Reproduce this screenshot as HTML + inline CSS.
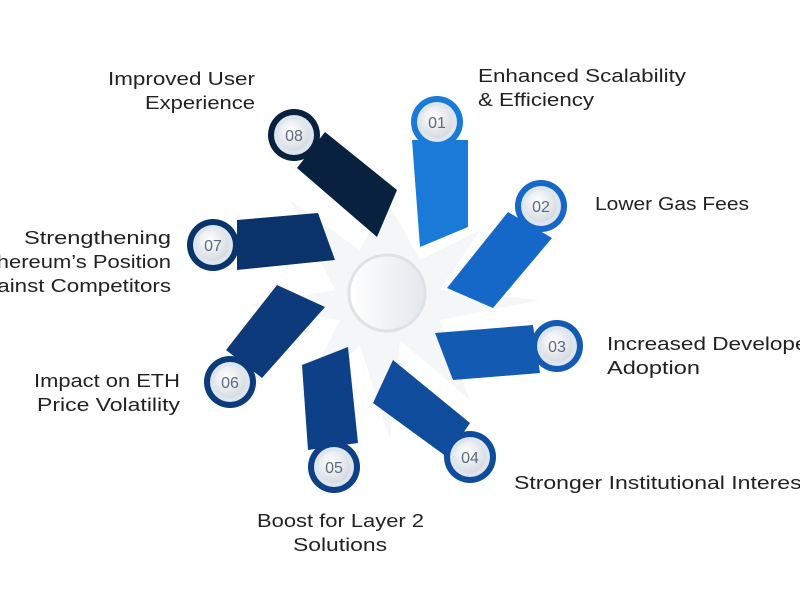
<!DOCTYPE html><html><head><style>body{margin:0;background:#fff}svg{display:block}text{font-family:"Liberation Sans",sans-serif}</style></head><body>
<svg width="800" height="600" viewBox="0 0 800 600">
<defs><radialGradient id="g" cx="40%" cy="35%" r="70%"><stop offset="0" stop-color="#fff"/><stop offset="1" stop-color="#d4d9df"/></radialGradient>
<linearGradient id="c" x1="0" x2="1"><stop offset="0" stop-color="#fff"/><stop offset="1" stop-color="#e4e8ec"/></linearGradient></defs>
<polygon points="387,200 420,260 480,230 440,290 540,300 440,320 470,400 400,340 390,440 360,345 300,400 340,320 250,305 335,290 290,200 360,250" fill="#f4f6f8"/>
<polygon points="412,140 468,140 468,227 420,247" fill="#1a7ad8"/>
<polygon points="508,212 552,238 493,308 447,288" fill="#1668c8"/>
<polygon points="435,333 533,325 540,373 453,380" fill="#135ab2"/>
<polygon points="373,403 393,360 470,423 447,457" fill="#0f4c9c"/>
<polygon points="302,365 348,347 358,443 308,450" fill="#0e4088"/>
<polygon points="277,285 325,307 262,378 226,350" fill="#0c3a7a"/>
<polygon points="237,220 318,213 335,260 237,270" fill="#0a336c"/>
<polygon points="325,132 297,168 377,237 397,190" fill="#07213f"/>
<circle cx="387" cy="293" r="38" fill="url(#c)" stroke="#dde2e7" stroke-width="3"/>
<g font-size="16" fill="#5a6b80" text-anchor="middle">
<g transform="translate(437,122)"><circle r="26" fill="#1a7ad8"/><circle r="20" fill="#dde6f0"/><circle r="16" fill="url(#g)"/><text y="6">01</text></g>
<g transform="translate(541,206)"><circle r="26" fill="#1668c8"/><circle r="20" fill="#dde6f0"/><circle r="16" fill="url(#g)"/><text y="6">02</text></g>
<g transform="translate(557,346)"><circle r="26" fill="#135ab2"/><circle r="20" fill="#dde6f0"/><circle r="16" fill="url(#g)"/><text y="6">03</text></g>
<g transform="translate(470,457)"><circle r="26" fill="#0f4c9c"/><circle r="20" fill="#dde6f0"/><circle r="16" fill="url(#g)"/><text y="6">04</text></g>
<g transform="translate(334,467)"><circle r="26" fill="#0e4088"/><circle r="20" fill="#dde6f0"/><circle r="16" fill="url(#g)"/><text y="6">05</text></g>
<g transform="translate(230,382)"><circle r="26" fill="#0c3a7a"/><circle r="20" fill="#dde6f0"/><circle r="16" fill="url(#g)"/><text y="6">06</text></g>
<g transform="translate(213,245)"><circle r="26" fill="#0a336c"/><circle r="20" fill="#dde6f0"/><circle r="16" fill="url(#g)"/><text y="6">07</text></g>
<g transform="translate(294,135)"><circle r="26" fill="#07213f"/><circle r="20" fill="#dde6f0"/><circle r="16" fill="url(#g)"/><text y="6">08</text></g>
</g>
<g font-size="18.5" fill="#222">
<text lengthAdjust="spacingAndGlyphs" x="108" y="85" textLength="147">Improved User</text><text lengthAdjust="spacingAndGlyphs" x="145" y="109" textLength="110">Experience</text>
<text lengthAdjust="spacingAndGlyphs" x="478" y="82" textLength="208">Enhanced Scalability</text><text lengthAdjust="spacingAndGlyphs" x="478" y="106" textLength="116">&amp; Efficiency</text>
<text lengthAdjust="spacingAndGlyphs" x="595" y="210" textLength="154">Lower Gas Fees</text>
<text lengthAdjust="spacingAndGlyphs" x="607" y="350" textLength="208">Increased Developer</text><text lengthAdjust="spacingAndGlyphs" x="607" y="374" textLength="93">Adoption</text>
<text lengthAdjust="spacingAndGlyphs" x="514" y="489" textLength="294">Stronger Institutional Interest</text>
<text lengthAdjust="spacingAndGlyphs" x="257" y="527" textLength="167">Boost for Layer 2</text><text lengthAdjust="spacingAndGlyphs" x="293" y="551" textLength="94">Solutions</text>
<text lengthAdjust="spacingAndGlyphs" x="34" y="387" textLength="146">Impact on ETH</text><text lengthAdjust="spacingAndGlyphs" x="37" y="411" textLength="143">Price Volatility</text>
<text lengthAdjust="spacingAndGlyphs" x="24" y="244" textLength="147">Strengthening</text><text lengthAdjust="spacingAndGlyphs" x="-24" y="268" textLength="195">Ethereum’s Position</text><text lengthAdjust="spacingAndGlyphs" x="-30" y="292" textLength="201">Against Competitors</text>
</g>
</svg></body></html>
